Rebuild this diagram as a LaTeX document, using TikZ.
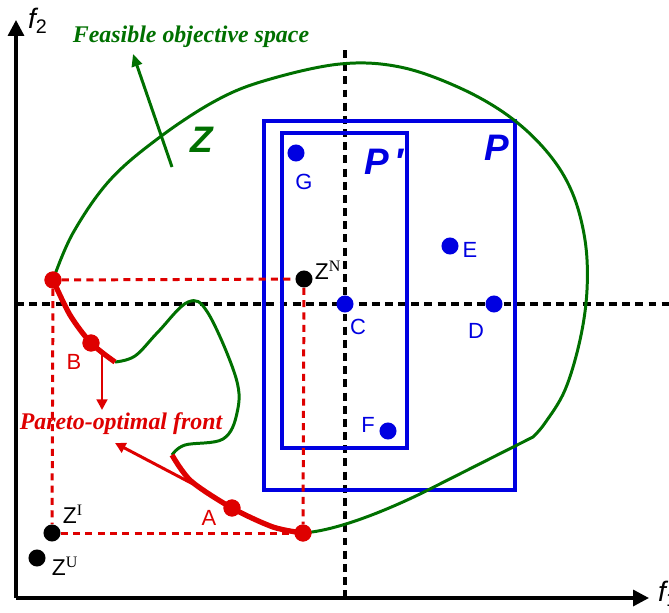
\documentclass[tikz,border=0pt]{standalone}
\usepackage{fontspec}
\setmainfont{Liberation Serif}
\setsansfont{Liberation Sans}
\usetikzlibrary{arrows.meta}
\definecolor{feasgreen}{RGB}{0,112,0}
\definecolor{prefblue}{RGB}{0,0,225}
\definecolor{frontred}{RGB}{222,0,0}
\begin{document}
\begin{tikzpicture}[x=0.02cm, y=-0.02cm,
    axis/.style={line width=1.9pt, -{Triangle[length=9pt, width=9pt]}},
    guide/.style={line width=2pt, dash pattern=on 4.5pt off 3pt},
    box/.style={prefblue, line width=1.9pt},
    feas/.style={feasgreen, line width=1.7pt},
    front/.style={frontred, line width=3pt},
    ideal/.style={frontred, line width=1.7pt, dash pattern=on 4pt off 3pt},
    dot/.style={circle, fill, inner sep=0pt, minimum size=9.7pt},
    lab/.style={font=\sffamily\fontsize{12.5}{14}\selectfont},
    zlab/.style={font=\sffamily\fontsize{13}{15}\selectfont},
    big/.style={font=\sffamily\bfseries\itshape\fontsize{21}{24}\selectfont},
    note/.style={font=\rmfamily\bfseries\itshape\fontsize{13.6}{16}\selectfont}]
    \useasboundingbox (0,0) rectangle (669,612);

    % Dashed reference lines
    \draw[guide] (345,50) -- (345,598);
    \draw[guide] (16,304) -- (669,304);

    % Preference regions P and P'
    \draw[box] (264,121) rectangle (515,490);
    \draw[box] (282,133) rectangle (407,448);
    \node[big, prefblue] (Plab) at (497,148) {P};
    \node[big, prefblue] (Pplab) at (384,162) {P\,\symbol{"2032}};

    % Feasible objective space
    \draw[feas] plot[smooth, tension=0.6] coordinates {(53,280) (73,233) (110,180) (160,137) (217,100) (267,80) (340,64) (400,67) (460,88) (510,117) (548,153) (572,192) (585,240) (587,290) (580,340) (565,390) (545,423) (533,437)}
        -- (420,494) .. controls (370,518) and (330,531) .. (303,533);
    \draw[feas] plot[smooth, tension=0.6] coordinates {(115,362) (135,356) (158,332) (188,302) (208,313) (236,378) (237,413) (223,439) (185,445) (172,455)};
    \node[big, feasgreen] (Zlab) at (202,140) {Z};
    \node[note, feasgreen] (feaslab) at (191,37) {Feasible objective space};
    \coordinate (feastail) at (172,167);
    \coordinate (feastip) at (133,54);
    \draw[feas, -{Triangle[length=7pt, width=6pt]}] (feastail) -- (feastip);

    % Special points
    \node[dot, frontred] (top) at (53,280) {};
    \node[dot, frontred] (B) at (91,343) {};
    \node[dot, frontred] (A) at (232,508) {};
    \node[dot, frontred] (bottom) at (303,533) {};
    \node[dot] (ZN) at (304,279) {};
    \node[dot] (ZI) at (52,533) {};
    \node[dot] (ZU) at (37,558) {};

    % Ideal / nadir box
    \draw[ideal] (top) -- (ZN);
    \draw[ideal] (top) -- (ZI);
    \draw[ideal] (ZI) -- (bottom);
    \draw[ideal] (ZN) -- (bottom);

    % Pareto-optimal front
    \draw[front] plot[smooth] coordinates {(top.center) (70,315) (B.center) (115,362)};
    \draw[front] plot[smooth] coordinates {(172,455) (191,481) (A.center) (273,527) (bottom.center)};
    \node[dot, frontred] at (top) {};
    \node[dot, frontred] at (B) {};
    \node[dot, frontred] at (A) {};
    \node[dot, frontred] at (bottom) {};
    \node[lab, frontred] (Blab) at (74,362) {B};
    \node[lab, frontred] (Alab) at (209,518) {A};
    \node[note, frontred] (frontlab) at (121,424) {Pareto-optimal front};
    \coordinate (Btail) at (102,352);
    \coordinate (Btip) at (102,410);
    \coordinate (Atail) at (193,484);
    \coordinate (Atip) at (115,443);
    \draw[frontred, line width=1.7pt, -{Triangle[length=6pt, width=6pt]}] (Btail) -- (Btip);
    \draw[frontred, line width=1.7pt, -{Triangle[length=6pt, width=6pt]}] (Atail) -- (Atip);

    % Reference points labels
    \node[zlab] (ZNlab) at (328,270) {Z$^{\mathrm{N}}$};
    \node[zlab] (ZIlab) at (73,514) {Z$^{\mathrm{I}}$};
    \node[zlab] (ZUlab) at (65,566) {Z$^{\mathrm{U}}$};

    % Solutions
    \node[dot, prefblue] (G) at (296,153) {};
    \node[dot, prefblue] (E) at (450,246) {};
    \node[dot, prefblue] (C) at (345,304) {};
    \node[dot, prefblue] (D) at (494,304) {};
    \node[dot, prefblue] (F) at (388,431) {};
    \node[lab, prefblue] (Glab) at (304,182) {G};
    \node[lab, prefblue] (Elab) at (470,250) {E};
    \node[lab, prefblue] (Clab) at (358,327) {C};
    \node[lab, prefblue] (Dlab) at (476,331) {D};
    \node[lab, prefblue] (Flab) at (368,425) {F};

    % Axes
    \draw[axis] (16,598) -- (16,20);
    \draw[axis] (16,598) -- (649,598);
    \node[font=\sffamily\itshape\fontsize{16}{18}\selectfont] (f2) at (38,21) {f\textsubscript{\upshape 2}};
    \node[font=\sffamily\itshape\fontsize{16}{18}\selectfont, anchor=west] (f1) at (652,594) {f\textsubscript{\upshape 1}};
\end{tikzpicture}
\end{document}
